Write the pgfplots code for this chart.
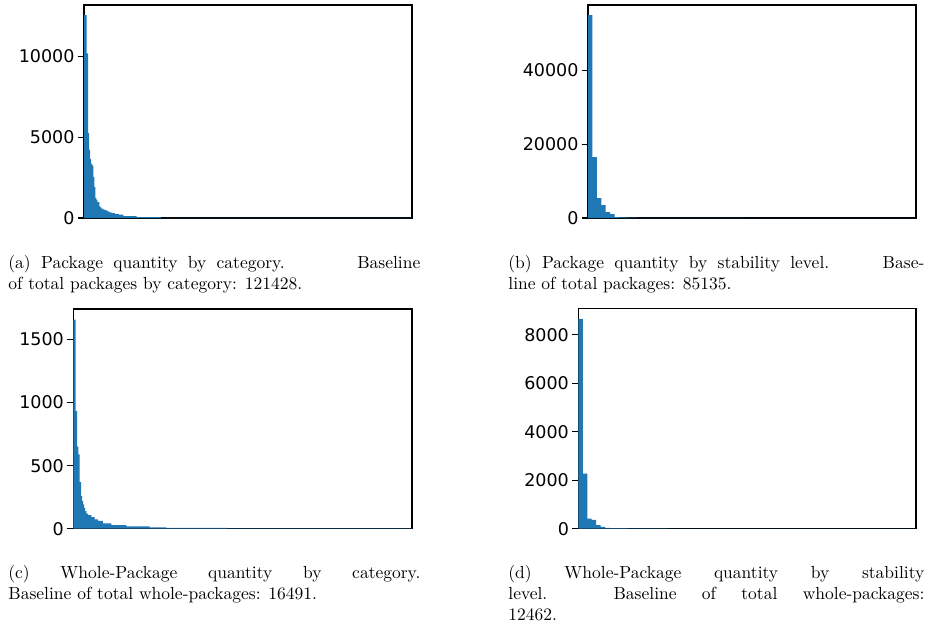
\documentclass[border=0pt]{standalone}
\usepackage{fontspec}
\usepackage{pgfplots}
\pgfplotsset{compat=1.18}
\newfontfamily\dejavu{DejaVu Sans}
\definecolor{C0}{HTML}{1F77B4}
\pgfplotsset{
  panel/.style={
    scale only axis, enlargelimits=false, ymin=0, xtick=\empty,
    axis line style={line width=0.8pt, black},
    tick align=outside, major tick length=3.4pt, ytick pos=left,
    every tick/.style={line width=0.8pt, black},
    yticklabel style={font=\dejavu\fontsize{10}{12}\selectfont, xshift=1.5pt},
    /pgf/number format/assume math mode=true,
    /pgf/number format/set thousands separator={},
    scaled y ticks=false,
    anchor=south west,
  },
  bars/.style={ybar interval, fill=C0, draw=none},
}
\newcommand\capfont{\fontsize{10}{12}\selectfont}
\begin{document}
\begin{tikzpicture}
\path[use as bounding box] (0,0) rectangle (529.7pt,358.3pt);

% (a)
\begin{axis}[panel, at={(48pt,233.7pt)}, width=187.4pt, height=121.7pt,
  xmin=0, xmax=328, ymax=13180, ytick={0,5000,10000}]
\addplot[bars] coordinates {
(0,12550) (2.7,10185) (4,5250) (5,4216) (6,3642) (7,3350) (8.3,3230)
(9.3,2530) (10.3,1914) (11.3,1235) (12.3,1130) (13.3,988) (15.3,720)
(16.3,660) (17.3,580) (19.3,520) (21.3,475) (23.3,411) (25.3,350)
(27.7,309) (31,250) (35,206) (39.3,123) (52.7,62) (77,10) (200,3) (328,3)};
\end{axis}

% (b)
\begin{axis}[panel, at={(336pt,233.7pt)}, width=187.4pt, height=121.7pt,
  xmin=0, xmax=74, ymax=57700, ytick={0,20000,40000}]
\addplot[bars] coordinates {
(0,54950) (1,16490) (2,5405) (3,3514) (4,1620) (5,1080) (6,270)
(7,180) (8,150) (9,120) (10,100) (11,80) (12,45) (13,40) (14,35)
(15,30) (16,30) (17,28) (18,26) (19,25) (20,24) (21,22) (22,22)
(23,20) (24,20) (25,20) (26,18) (27,18) (28,18) (29,16) (30,16)
(31,15) (32,15) (33,14) (34,14) (35,13) (36,13) (37,12) (38,12)
(39,12) (40,11) (41,11) (42,10) (43,10) (44,10) (45,9) (46,9)
(47,9) (48,8) (49,8) (50,8) (51,7) (52,7) (53,7) (54,6) (55,6)
(56,6) (57,5) (58,5) (59,5) (60,5) (61,4) (62,4) (63,4) (64,4)
(65,3) (66,3) (67,3) (68,3) (69,2) (70,2) (71,2) (72,2) (73,1) (74,1)};
\end{axis}

% (c)
\begin{axis}[panel, at={(41.9pt,56.2pt)}, width=193.5pt, height=125.5pt,
  xmin=0, xmax=339, ymax=1742, ytick={0,500,1000,1500}]
\addplot[bars] coordinates {
(0,1659) (2.3,932) (3.7,650) (5,589) (6.3,370) (7.7,259) (8.7,219)
(9.7,193) (10.7,166) (11.7,140) (13,119) (14.7,108) (18,92) (21.3,74)
(24.7,61) (29.7,42) (38,29) (53,18) (76.3,10) (93,6) (154,2) (339,2)};
\end{axis}

% (d)
\begin{axis}[panel, at={(330.5pt,56.2pt)}, width=193pt, height=125.9pt,
  xmin=0, xmax=76, ymax=9090, ytick={0,2000,4000,6000,8000}]
\addplot[bars] coordinates {
(0,8653) (1,2273) (2,413) (3,365) (4,152) (5,70) (6,30) (7,28)
(8,26) (9,25) (10,22) (11,12) (12,11) (13,10) (14,10) (15,9)
(16,9) (17,8) (18,8) (19,8) (20,7) (21,7) (22,7) (23,6) (24,6)
(25,6) (26,6) (27,5) (28,5) (29,5) (30,5) (31,5) (32,4) (33,4)
(34,4) (35,4) (36,4) (37,4) (38,3) (39,3) (40,3) (41,3) (42,3)
(43,3) (44,3) (45,3) (46,2) (47,2) (48,2) (49,2) (50,2) (51,2)
(52,2) (53,2) (54,2) (55,2) (56,2) (57,1) (58,1) (59,1) (60,1)
(61,1) (62,1) (63,1) (64,1) (65,1) (66,1) (67,1) (68,1) (69,1)
(70,1) (71,1) (72,1) (73,1) (74,1) (75,1) (76,1)};
\end{axis}

% captions
\node[anchor=base west, inner sep=0pt] at (4.6pt,204.6pt) {\parbox[t]{235.4pt}{\capfont
\hbox to \linewidth{\spaceskip=5.9pt (a) Package quantity by category.\hfill Baseline}
of total packages by category: 121428.}};
\node[anchor=base west, inner sep=0pt] at (290.3pt,204.6pt) {\parbox[t]{237.7pt}{\capfont
\hbox to \linewidth{\spaceskip=5.9pt (b) Package quantity by stability level.\hfill Base-}
line of total packages: 85135.}};
\node[anchor=base west, inner sep=0pt] at (4.6pt,28pt) {\parbox[t]{235.4pt}{\capfont\sloppy
(c) Whole-Package quantity by category.\linebreak
Baseline of total whole-packages: 16491.}};
\node[anchor=base west, inner sep=0pt] at (290.3pt,28pt) {\parbox[t]{237.7pt}{\capfont\sloppy
(d) Whole-Package quantity by stability\linebreak
level. Baseline of total whole-packages:\linebreak
12462.}};
\end{tikzpicture}
\end{document}
